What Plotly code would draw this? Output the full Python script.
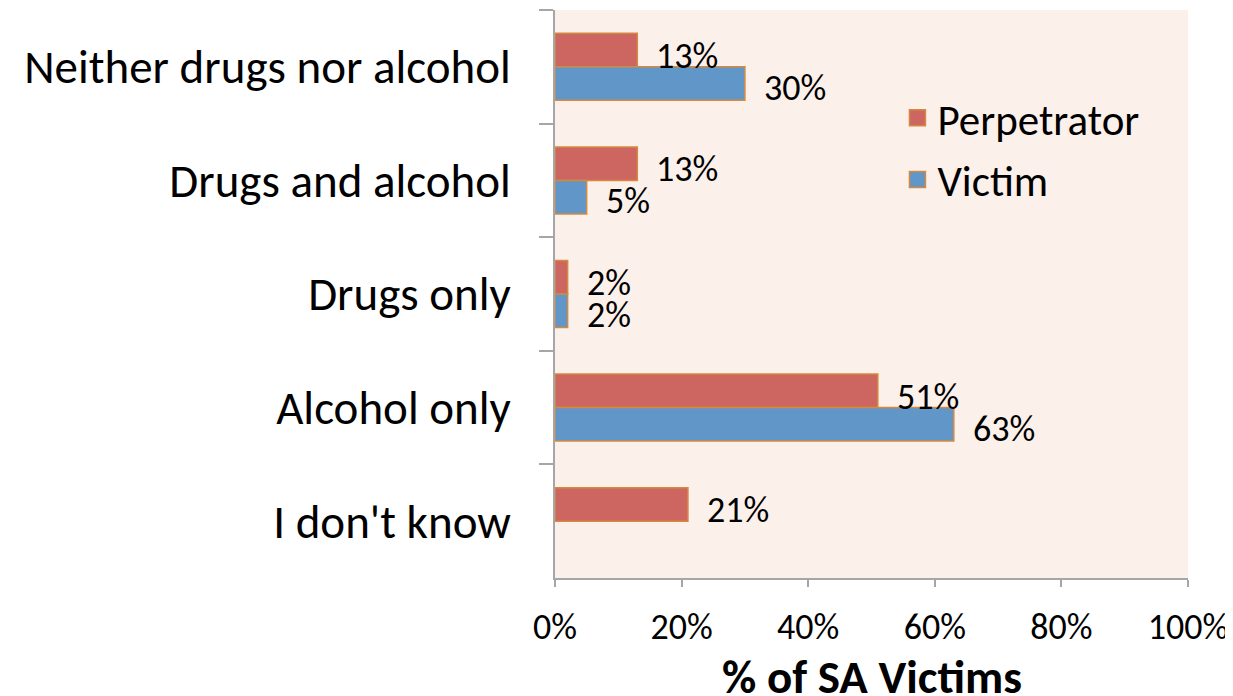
import plotly.graph_objects as go

categories = ["Neither drugs nor alcohol", "Drugs and alcohol", "Drugs only", "Alcohol only", "I don't know"]
perpetrator = [13, 13, 2, 51, 21]
victim = [30, 5, 2, 63, None]
x_ticks = [0, 20, 40, 60, 80, 100]
x_tick_labels = ["0%", "20%", "40%", "60%", "80%", "100%"]
x_title = "% of SA Victims"

FONT = "Carlito, Lato, sans-serif"
RED = "#CD6661"
BLUE = "#6196C9"
EDGE = "#D4893E"
BG = "#FCF0EB"
AXIS = "#A6A6A6"

fig = go.Figure()
fig.add_trace(go.Bar(y=categories, x=perpetrator, orientation="h", name="Perpetrator",
                     marker=dict(color=RED, line=dict(color=EDGE, width=1.5)), showlegend=False))
fig.add_trace(go.Bar(y=categories, x=victim, orientation="h", name="Victim",
                     marker=dict(color=BLUE, line=dict(color=EDGE, width=1.5)), showlegend=False))

# legend entries with larger swatches
for name, col in [("Perpetrator", RED), ("Victim", BLUE)]:
    fig.add_trace(go.Scatter(x=[None], y=[None], mode="markers", name=name, legendgroup=name,
                             marker=dict(symbol="square", size=25, color=col, line=dict(color=EDGE, width=1.5))))

annotations = []
for series, shift in [(perpetrator, 11), (victim, -21)]:
    for cat, v in zip(categories, series):
        if v is None:
            continue
        annotations.append(dict(x=v, y=cat, xref="x", yref="y", text=f"{v}%", showarrow=False,
                                xanchor="left", yanchor="middle", xshift=17, yshift=shift,
                                font=dict(family=FONT, size=36, color="black")))

# x-axis title (placed as annotation so it can sit as low as in the reference)
annotations.append(dict(x=0.5, y=0, xref="paper", yref="paper", text=f"<b>{x_title}</b>",
                        showarrow=False, xanchor="center", yanchor="middle", yshift=-99,
                        font=dict(family=FONT, size=47, color="black")))

fig.update_layout(
    width=1225, height=688,
    margin=dict(l=547, r=45, t=2, b=118),
    paper_bgcolor="white", plot_bgcolor=BG,
    barmode="group", bargap=0.41, bargroupgap=0,
    font=dict(family=FONT, color="black"),
    annotations=annotations,
    legend=dict(x=0.541, y=0.871, xanchor="left", yanchor="top", bgcolor="rgba(0,0,0,0)",
                font=dict(family=FONT, size=43, color="black"), tracegroupgap=3,
                itemsizing="trace"),
)
fig.update_xaxes(range=[0, 100], tickvals=x_ticks, ticktext=x_tick_labels,
                 showgrid=False, zeroline=False, showline=True, linecolor=AXIS, linewidth=1.5,
                 ticks="outside", ticklen=7, tickcolor=AXIS, tickwidth=1.5,
                 tickfont=dict(family=FONT, size=36, color="black"), ticklabelstandoff=9,
                 ticklabeloverflow="allow")
fig.update_yaxes(categoryorder="array", categoryarray=categories, autorange="reversed",
                 showgrid=False, zeroline=False, showline=True, linecolor=AXIS, linewidth=1.5,
                 ticks="outside", ticklen=14, tickcolor=AXIS, tickwidth=1.5, tickson="boundaries",
                 tickfont=dict(family=FONT, size=47, color="black"), ticklabelstandoff=33)

fig.write_html("out.html")
